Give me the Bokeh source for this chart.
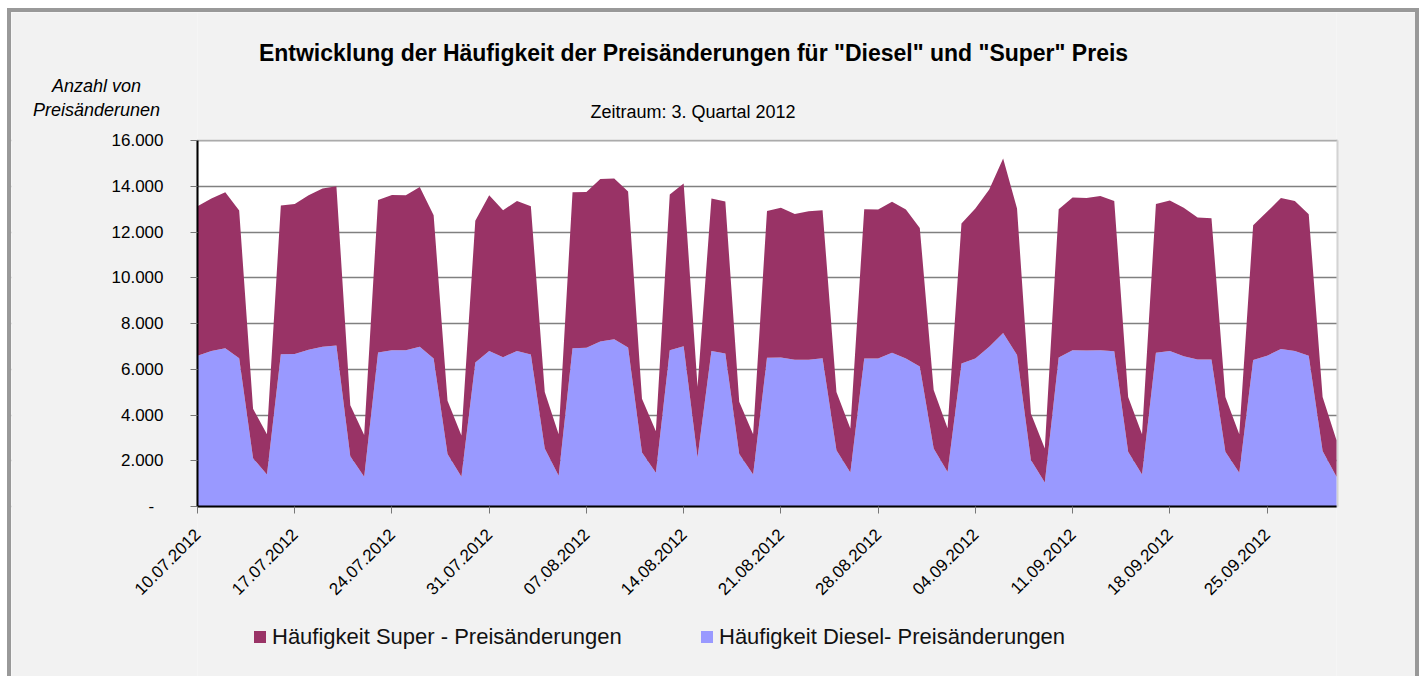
from bokeh.plotting import figure
from bokeh.layouts import column
from bokeh.models import (Range1d, FixedTicker, Label, Legend, LegendItem,
                          BoxAnnotation, ColumnDataSource)
from bokeh.embed import file_html
from bokeh.resources import INLINE

# ---------------- data ----------------
x_tick_labels = ["10.07.2012", "17.07.2012", "24.07.2012", "31.07.2012",
                 "07.08.2012", "14.08.2012", "21.08.2012", "28.08.2012",
                 "04.09.2012", "11.09.2012", "18.09.2012", "25.09.2012"]

diesel = [6590, 6800, 6920, 6480, 2110, 1400, 6660, 6670, 6850, 6980,
          7040, 2200, 1300, 6730, 6830, 6830, 6980, 6470, 2300, 1300,
          6290, 6800, 6530, 6800, 6640, 2540, 1340, 6920, 6940, 7210,
          7310, 6950, 2360, 1470, 6830, 7010, 2140, 6800, 6690, 2290,
          1400, 6500, 6510, 6410, 6410, 6480, 2460, 1490, 6470, 6470,
          6720, 6470, 6120, 2540, 1510, 6250, 6470, 6980, 7580, 6620,
          2030, 1050, 6510, 6830, 6820, 6830, 6790, 2390, 1400, 6720,
          6800, 6570, 6430, 6430, 2390, 1470, 6400, 6590, 6880, 6800,
          6590, 2430, 1300]

super_ = [6540, 6660, 6820, 6460, 2160, 1760, 6500, 6550, 6760, 6920,
          6960, 2230, 1830, 6670, 6790, 6780, 6990, 6260, 2320, 1800,
          6200, 6810, 6420, 6560, 6490, 2470, 1820, 6820, 6810, 7110,
          7030, 6820, 2350, 1820, 6810, 7110, 3090, 6660, 6640, 2290,
          1760, 6420, 6550, 6380, 6500, 6470, 2550, 1920, 6530, 6510,
          6600, 6510, 6060, 2550, 1910, 6120, 6560, 6880, 7630, 6410,
          2040, 1490, 6490, 6680, 6670, 6740, 6560, 2400, 1760, 6500,
          6580, 6490, 6200, 6170, 2400, 1690, 5900, 6290, 6610, 6550,
          6190, 2360, 1600]

y_ticks = [0, 2000, 4000, 6000, 8000, 10000, 12000, 14000, 16000]
y_tick_labels = ["-\u00a0\u00a0", "2.000", "4.000", "6.000", "8.000",
                 "10.000", "12.000", "14.000", "16.000"]

title_text = 'Entwicklung der Häufigkeit der Preisänderungen für "Diesel" und "Super" Preis'
subtitle_text = "Zeitraum: 3. Quartal 2012"
ylabel_lines = ["Anzahl von", "Preisänderunen"]
series_names = ["Häufigkeit Diesel- Preisänderungen", "Häufigkeit Super - Preisänderungen"]

days = list(range(len(diesel)))

# ---------------- geometry (page pixels) ----------------
FONT = "Liberation Sans"
PX_L, PX_R, PX_T, PX_B = 197, 1336, 140, 506   # visible plot area
FIG_X, FIG_Y = 11, 12                          # figure origin on the page
W, H = 1404, 664
XMAX = len(days) - 1
YMAX = y_ticks[-1]
KX = XMAX / (PX_R - PX_L)          # data units per pixel
KY = YMAX / (PX_B - PX_T)
XS = -(PX_L - FIG_X) * KX
XE = XMAX + (FIG_X + W - PX_R) * KX
YS = -(FIG_Y + H - PX_B) * KY
YE = YMAX + (PX_T - FIG_Y) * KY


def dx(px):
    return (px - PX_L) * KX


def dy(py):
    return (PX_B - py) * KY


p = figure(width=W, height=H, output_backend="svg", toolbar_location=None,
           x_range=Range1d(XS, XE), y_range=Range1d(YS, YE),
           min_border=0, background_fill_color="white",
           border_fill_color="#f2f2f2", outline_line_color=None)

p.ygrid.grid_line_color = "#808080"
p.ygrid.grid_line_width = 1.3
p.xgrid.visible = False

# grey surroundings of the white plotting area
BG = "#f2f2f2"
for l, r, b, t in [(XS, 0, YS, YE), (XMAX, XE, YS, YE), (0, XMAX, YMAX, YE), (0, XMAX, YS, 0)]:
    p.add_layout(BoxAnnotation(left=l, right=r, bottom=b, top=t, fill_color=BG,
                               fill_alpha=1, line_alpha=0, level="underlay"))
# plot area border (top / right visible)
p.add_layout(BoxAnnotation(left=0, right=XMAX + 0.07, bottom=0, top=YMAX,
                           fill_alpha=0, line_color="#8a8a8a", line_width=2,
                           level="underlay"))

src = ColumnDataSource(dict(x=days, diesel=diesel, super=super_))
rs = p.varea_stack(["diesel", "super"], x="x", source=src,
                   color=["#9999ff", "#993366"])

# axes (fixed at the data origin, so they take no panel space)
p.xaxis.fixed_location = 0
p.yaxis.fixed_location = 0
p.xaxis.bounds = (0, XMAX)
p.yaxis.bounds = (0, YMAX)
p.xaxis.ticker = FixedTicker(ticks=[i * 7 for i in range(len(x_tick_labels))])
p.xaxis.major_label_overrides = {i * 7: lab for i, lab in enumerate(x_tick_labels)}
p.xaxis.major_label_orientation = 0.785398
p.xaxis.major_label_standoff = 18
p.yaxis.ticker = FixedTicker(ticks=y_ticks)
p.yaxis.major_label_overrides = {t: lab for t, lab in zip(y_ticks, y_tick_labels)}
p.yaxis.major_label_standoff = 27
for ax in (p.xaxis, p.yaxis):
    ax.axis_line_color = "black"
    ax.axis_line_width = 2
    ax.major_tick_in = 0
    ax.major_tick_out = 7
    ax.major_tick_line_color = "#777777"
    ax.minor_tick_line_color = None
    ax.major_label_text_font = FONT
    ax.major_label_text_font_size = "17px"
    ax.major_label_text_color = "black"

# texts
p.add_layout(Label(x=dx(693), y=dy(52.7), text=title_text, text_align="center",
                   text_baseline="alphabetic", text_font=FONT, text_font_style="bold",
                   text_font_size="23px", text_color="black"))
p.add_layout(Label(x=dx(692.5), y=dy(111), text=subtitle_text, text_align="center",
                   text_baseline="alphabetic", text_font=FONT,
                   text_font_size="18px", text_color="black"))
for line, base in zip(ylabel_lines, [85, 109]):
    p.add_layout(Label(x=dx(96), y=dy(base), text=line, text_align="center",
                       text_baseline="alphabetic", text_font=FONT,
                       text_font_style="italic", text_font_size="18px",
                       text_color="black"))

# series legend
LEG_H = 25
leg = Legend(items=[LegendItem(label=series_names[1], renderers=[rs[1]]),
                    LegendItem(label=series_names[0], renderers=[rs[0]])],
             orientation="horizontal",
             location=(252 - FIG_X, (FIG_Y + H) - (637 + LEG_H / 2)),
             label_text_font=FONT, label_text_font_size="22px",
             label_text_color="#111111", label_width=699 - 252 - 20,
             glyph_width=15, glyph_height=15, label_standoff=5,
             padding=0, margin=0, spacing=0,
             border_line_alpha=0, background_fill_alpha=0)
p.add_layout(leg)

# outer chart frame (left, top, right; the bottom runs off the page)
root = column(p, styles={"border-left": "4px solid #999999",
                         "border-top": "4px solid #999999",
                         "border-right": "4px solid #999999",
                         "margin-left": "7px", "margin-top": "8px",
                         "background-color": "#f2f2f2"})

open("out.html", "w").write(file_html(root, INLINE))
